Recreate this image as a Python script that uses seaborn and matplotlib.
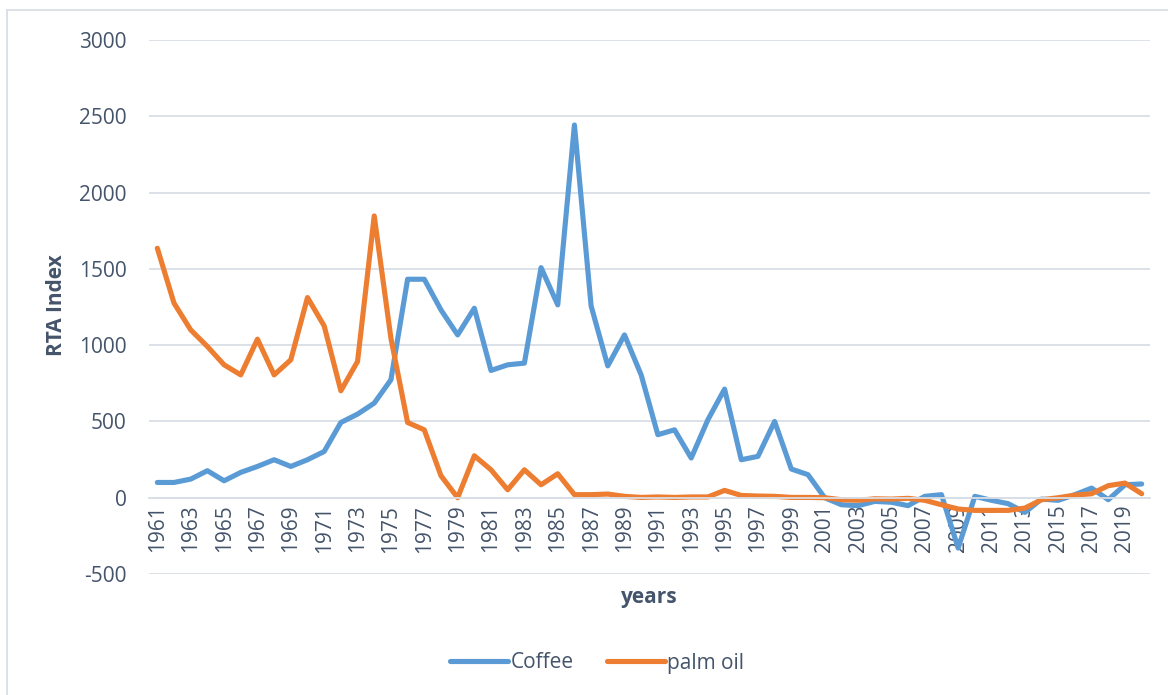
import matplotlib
matplotlib.use("Agg")
import matplotlib.pyplot as plt
from matplotlib.lines import Line2D
from matplotlib.ticker import FixedLocator, NullFormatter
import numpy as np
import pandas as pd
import seaborn as sns

# ---- data -------------------------------------------------------------
years = list(range(1961, 2021))

coffee = [100, 100, 122, 177, 111, 166, 205, 249, 205, 249,
          303, 493, 548, 620, 773, 1432, 1432, 1231, 1067, 1242,
          834, 871, 882, 1508, 1264, 2443, 1257, 864, 1067, 805,
          413, 445, 260, 511, 712, 249, 271, 500, 188, 151,
          0, -46, -52, -24, -30, -52, 9, 20, -330, 9,
          -17, -39, -96, -9, -17, 20, 63, -13, 85, 90]

palm_oil = [1635, 1275, 1100, 991, 871, 805, 1039, 805, 904, 1312,
            1126, 701, 893, 1847, 1046, 493, 445, 144, 0, 275,
            183, 52, 183, 85, 157, 20, 20, 24, 9, 2,
            5, 2, 5, 5, 48, 15, 11, 9, 2, 2,
            0, -13, -17, -7, -9, -4, -17, -46, -74, -83,
            -83, -83, -68, -13, 0, 17, 26, 79, 96, 26]

series_names = ["Coffee", "palm oil"]
colors = ["#5B9BD5", "#ED7D31"]
y_ticks = [-500, 0, 500, 1000, 1500, 2000, 2500, 3000]

# ---- styling ----------------------------------------------------------
sns.set_theme(style="white")
plt.rcParams["font.family"] = ["Open Sans", "DejaVu Sans"]
text_color = "#44546A"
grid_color = "#D9DEE6"
fs = 15

df = pd.DataFrame({"year": years, "Coffee": coffee, "palm oil": palm_oil})
long = df.melt(id_vars="year", var_name="series", value_name="rta")
long["pos"] = long["year"] - years[0]

fig = plt.figure(figsize=(11.68, 6.95), dpi=100)
ax = fig.add_axes([149 / 1168, 1 - 574 / 695, (1150 - 149) / 1168, (574 - 40) / 695])

sns.lineplot(data=long, x="pos", y="rta", hue="series", hue_order=series_names,
             palette=colors, linewidth=3.7, ax=ax, legend=False,
             solid_capstyle="round", solid_joinstyle="round")

ax.set_xlim(-0.5, len(years) - 0.5)
ax.set_ylim(-500, 3000)
ax.set_yticks(y_ticks)
ax.set_yticklabels([str(v) for v in y_ticks])
ax.yaxis.grid(True, color=grid_color, linewidth=1.3)
ax.set_axisbelow(True)

# category axis drawn through zero, labels every other year
ax.spines["bottom"].set_position(("data", 0))
ax.spines["bottom"].set_color(grid_color)
ax.spines["bottom"].set_linewidth(1.3)
for side in ["left", "right", "top"]:
    ax.spines[side].set_visible(False)

label_pos = list(range(0, len(years), 2))
ax.set_xticks(label_pos)
ax.set_xticklabels([str(years[i]) for i in label_pos], rotation=90)
ax.xaxis.set_minor_locator(FixedLocator(np.arange(-0.5, len(years), 1.0)))
ax.xaxis.set_minor_formatter(NullFormatter())
ax.tick_params(axis="x", which="major", length=0, pad=5, labelsize=fs, colors=text_color)
ax.tick_params(axis="x", which="minor", length=6, width=1.3, color=grid_color, direction="out")
ax.tick_params(axis="y", length=0, pad=16, labelsize=fs, colors=text_color)

ax.set_xlabel("")
ax.set_ylabel("")
fig.text(57 / 1168, 1 - 305 / 695, "RTA Index", rotation=90, ha="center", va="center",
         fontsize=fs, fontweight="bold", color=text_color)
fig.text(649 / 1168, 1 - 597 / 695, "years", ha="center", va="center",
         fontsize=fs, fontweight="bold", color=text_color)

handles = [Line2D([0], [0], color=c, linewidth=3.7, solid_capstyle="round") for c in colors]
fig.legend(handles, series_names, loc="center", bbox_to_anchor=(597 / 1168, 1 - 663 / 695),
           ncol=2, frameon=False, fontsize=fs, labelcolor=text_color,
           handlelength=2.8, handletextpad=0.1, columnspacing=1.6)

# outer chart frame
fig.add_artist(Line2D([7 / 1168, 7 / 1168], [0, 1 - 10 / 695], transform=fig.transFigure,
                      color=grid_color, linewidth=1.3))
fig.add_artist(Line2D([7 / 1168, 1], [1 - 10 / 695, 1 - 10 / 695], transform=fig.transFigure,
                      color=grid_color, linewidth=1.3))

fig.savefig("out.png", dpi=100)
